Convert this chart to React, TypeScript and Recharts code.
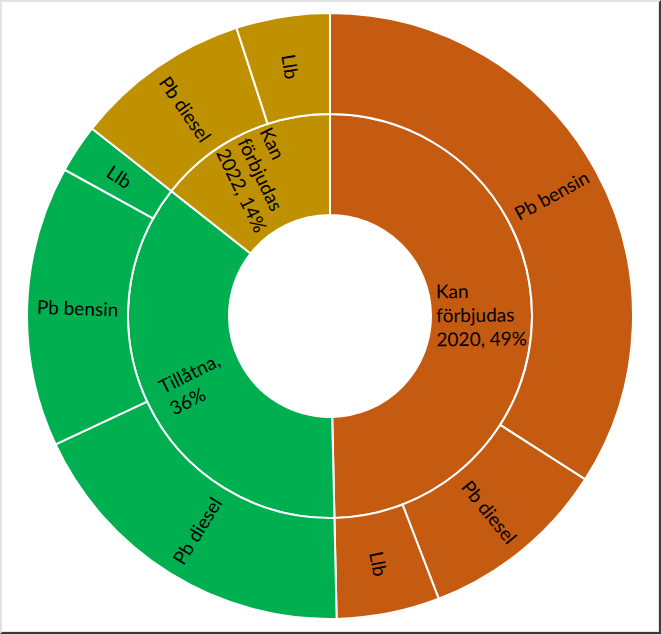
import React from "react";
import { PieChart, Pie, Cell } from "recharts";

// Inner ring (groups)
const innerLabels: string[][] = [
  ["Kan", "förbjudas", "2020, 49%"],
  ["Tillåtna,", "36%"],
  ["Kan", "förbjudas", "2022, 14%"],
];
const groupColors = ["#C55A11", "#00B050", "#BF9000"];

// Outer ring (sub categories), clockwise from 12 o'clock
const outerNames = ["Pb bensin", "Pb diesel", "Llb", "Pb diesel", "Pb bensin", "Llb", "Pb diesel", "Llb"];
const outerValues = [34.1, 10.1, 5.5, 18.4, 15.0, 2.6, 9.4, 5.0];
const outerGroup = [0, 0, 0, 1, 1, 1, 2, 2];

const outerData = outerNames.map((name, i) => ({ name, value: outerValues[i], group: outerGroup[i] }));
const innerData = innerLabels.map((lines, g) => ({
  name: lines.join(" "),
  value: outerValues.reduce((s, v, i) => (outerGroup[i] === g ? s + v : s), 0),
}));

const FONT_FAMILY = "Lato, 'Noto Sans', sans-serif";
const FONT_SIZE = 19;
const LINE_H = 24;
const RAD = Math.PI / 180;

let ctx: CanvasRenderingContext2D | null = null;
function measure(t: string): number {
  if (typeof document === "undefined") return t.length * FONT_SIZE * 0.5;
  if (!ctx) ctx = document.createElement("canvas").getContext("2d");
  if (!ctx) return t.length * FONT_SIZE * 0.5;
  ctx.font = `${FONT_SIZE}px Lato`;
  return ctx.measureText(t).width;
}

function readable(rot: number): number {
  let r = ((rot % 360) + 540) % 360 - 180;
  if (r > 90) r -= 180;
  if (r < -90) r += 180;
  return r;
}

function polar(cx: number, cy: number, r: number, a: number) {
  return { x: cx + r * Math.cos(-a * RAD), y: cy + r * Math.sin(-a * RAD) };
}

const renderOuter = (props: any) => {
  const { cx, cy, midAngle, innerRadius, outerRadius, index } = props;
  const r = (innerRadius + outerRadius) / 2;
  const { x, y } = polar(cx, cy, r, midAngle);
  const rot = readable(-midAngle);
  return (
    <text
      key={`o-${index}`}
      x={x}
      y={y}
      transform={`rotate(${rot} ${x} ${y})`}
      textAnchor="middle"
      dominantBaseline="central"
      fontFamily={FONT_FAMILY}
      fontSize={FONT_SIZE}
      fill="#000"
    >
      {outerNames[index]}
    </text>
  );
};

const renderInner = (props: any) => {
  const { cx, cy, midAngle, innerRadius, outerRadius, index } = props;
  const r = (innerRadius + outerRadius) / 2;
  const { x, y } = polar(cx, cy, r, midAngle);
  const rot = readable(-midAngle);
  const lines = innerLabels[index];
  const w = Math.max(...lines.map(measure));
  const n = lines.length;
  return (
    <g key={`i-${index}`} transform={`rotate(${rot} ${x} ${y})`}>
      {lines.map((ln, k) => (
        <text
          key={k}
          x={x - w / 2}
          y={y + (k - (n - 1) / 2) * LINE_H}
          textAnchor="start"
          dominantBaseline="central"
          fontFamily={FONT_FAMILY}
          fontSize={FONT_SIZE}
          fill="#000"
        >
          {ln}
        </text>
      ))}
    </g>
  );
};

export default function App() {
  return (
    <div style={{ position: "absolute", left: 0, top: 0, width: 661, height: 634, background: "#fff" }}>
      <PieChart width={661} height={634} margin={{ top: 0, right: 0, bottom: 0, left: 0 }}>
        <Pie
          data={innerData}
          dataKey="value"
          cx={330}
          cy={316}
          innerRadius={101}
          outerRadius={202}
          startAngle={90}
          endAngle={-270}
          stroke="#fff"
          strokeWidth={2}
          label={renderInner}
          labelLine={false}
          isAnimationActive={false}
        >
          {innerData.map((_, i) => (
            <Cell key={i} fill={groupColors[i]} />
          ))}
        </Pie>
        <Pie
          data={outerData}
          dataKey="value"
          cx={330}
          cy={316}
          innerRadius={202}
          outerRadius={303}
          startAngle={90}
          endAngle={-270}
          stroke="#fff"
          strokeWidth={2}
          label={renderOuter}
          labelLine={false}
          isAnimationActive={false}
        >
          {outerData.map((d, i) => (
            <Cell key={i} fill={groupColors[d.group]} />
          ))}
        </Pie>
      </PieChart>
      <div
        style={{
          position: "absolute",
          left: 0,
          top: 0,
          width: 661,
          height: 634,
          boxSizing: "border-box",
          borderTop: "2px solid #e2e2e2",
          borderLeft: "2px solid #e2e2e2",
          borderRight: "2px solid #3a3a3a",
          borderBottom: "2px solid #3a3a3a",
          boxShadow: "inset -1px -1px 0 #e6e6e6",
          pointerEvents: "none",
        }}
      />
    </div>
  );
}
